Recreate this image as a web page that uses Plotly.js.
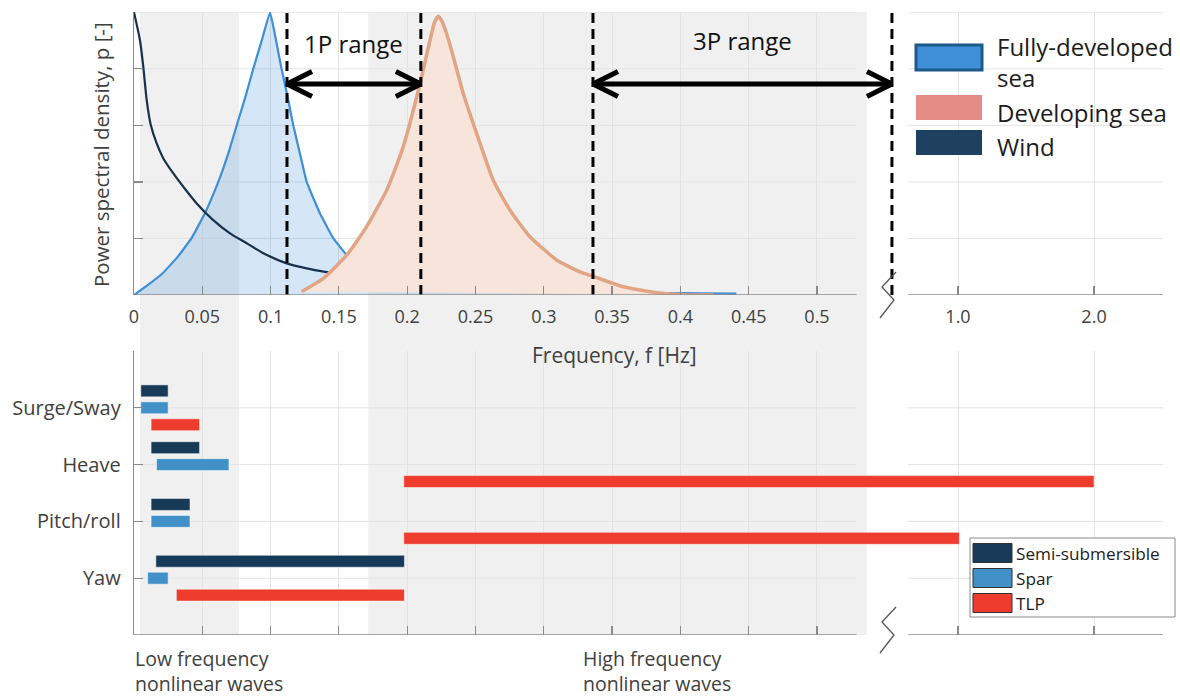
<!DOCTYPE html>
<html><head><meta charset="utf-8">
<script src="https://cdn.plot.ly/plotly-3.0.1.min.js"></script>
<style>html,body{margin:0;padding:0;background:#fff;}#chart{width:1180px;height:698px;}</style>
</head><body><div id="chart"></div>
<script>
// ---------------- DATA ----------------
const windF = [0, 0.0044, 0.0068, 0.0093, 0.0122, 0.0166, 0.0215, 0.0288, 0.0361, 0.0459, 0.058, 0.0703, 0.0825, 0.0947, 0.1118, 0.1264, 0.1398, 0.15];
const windP = [1.0, 0.90, 0.807, 0.689, 0.603, 0.536, 0.483, 0.430, 0.383, 0.324, 0.265, 0.218, 0.183, 0.148, 0.112, 0.094, 0.082, 0.075];

const fullyF = [0, 0.01, 0.021, 0.032, 0.042, 0.052, 0.0617, 0.069, 0.0752, 0.0815, 0.0873, 0.0935, 0.0996, 0.104, 0.108, 0.1125, 0.1166, 0.1215, 0.1264, 0.136, 0.146, 0.156, 0.167, 0.18, 0.2, 0.23, 0.26, 0.3, 0.35, 0.39, 0.415, 0.441];
const fullyP = [0, 0.035, 0.077, 0.135, 0.2, 0.29, 0.4, 0.5, 0.6, 0.7, 0.8, 0.9, 1.0, 0.9, 0.8, 0.7, 0.6, 0.5, 0.4, 0.29, 0.2, 0.14, 0.1, 0.075, 0.05, 0.03, 0.02, 0.013, 0.009, 0.007, 0.006, 0.005];

const devF = [0.1227, 0.1386, 0.1557, 0.1703, 0.185, 0.197, 0.2094, 0.2167, 0.2200, 0.2228, 0.2255, 0.2289, 0.2338, 0.2411, 0.2509, 0.263, 0.2753, 0.2899, 0.3094, 0.3265, 0.3363, 0.3582, 0.3826, 0.4021, 0.4241];
const devP = [0.012, 0.059, 0.141, 0.242, 0.371, 0.523, 0.748, 0.901, 0.965, 0.986, 0.968, 0.924, 0.842, 0.712, 0.571, 0.406, 0.300, 0.206, 0.124, 0.082, 0.066, 0.029, 0.008, 0.001, 0.0];

const onePRange = [0.112, 0.21];
const threePRange = [0.336, 0.63];
const arrowLevel = 0.746;
const lowFreqBand = [0.0044, 0.077];
const highFreqBand = [0.1715, 0.558];

const dofLabels = ['Surge/Sway', 'Heave', 'Pitch/roll', 'Yaw'];
const semiStart = [0.005, 0.0125, 0.0125, 0.016];
const semiEnd   = [0.025, 0.048, 0.041, 0.198];
const sparStart = [0.005, 0.0165, 0.0125, 0.010];
const sparEnd   = [0.025, 0.0695, 0.041, 0.025];
const tlpStart  = [0.0125, 0.1975, 0.1975, 0.031];
const tlpEnd    = [0.048, 2.0, 1.01, 0.198];

const freqTicks = [0, 0.05, 0.1, 0.15, 0.2, 0.25, 0.3, 0.35, 0.4, 0.45, 0.5, 1, 2];
const freqTickText = ['0', '0.05', '0.1', '0.15', '0.2', '0.25', '0.3', '0.35', '0.4', '0.45', '0.5', '1.0', '2.0'];
const pTicks = [0, 0.2, 0.4, 0.6, 0.8, 1.0];

// ---------------- GEOMETRY (broken frequency axis) ----------------
const W = 1180, H = 698;
const LX0 = 134, LX1 = 856.6, RX0 = 914, RX1 = 1163;
const TY0 = 12, TY1 = 295, BY0 = 351, BY1 = 635;
const F_L_END = 0.529;              // end of the linear low-frequency segment
const F_GAP_END = 0.693;            // frequencies drawn inside the break
const F_R_START = 0.6765, F_R_END = 2.507;  // compressed high-frequency segment
const pxL = (LX1 - LX0) / F_L_END;
const pxR = (RX1 - RX0) / (F_R_END - F_R_START);
function fpx(f) {
  if (f <= F_L_END) return LX0 + f * pxL;
  if (f < F_GAP_END) return LX1 + (f - F_L_END) / (F_GAP_END - F_L_END) * (RX0 - LX1);
  return RX0 + (f - F_R_START) * pxR;
}
function brk(f) { return (fpx(f) - LX0) / pxL; }
const U_END = (RX1 - LX0) / pxL;
const PX = x => x / W, PY = y => 1 - y / H;
const pUnit = (TY1 - TY0);
const uPerPx = 1 / pxL;

const AX = '#8a8a8a', GRID = '#e3e3e3', TXT = '#404040', BAND = '#f0f0f0';
const FONT = 'Open Sans, Noto Sans, sans-serif';

// ---------------- TRACES ----------------
const traces = [];
traces.push({
  x: fullyF.map(brk), y: fullyP, xaxis: 'x', yaxis: 'y', mode: 'lines', fill: 'toself',
  fillcolor: 'rgba(66,146,214,0.22)', line: {color: '#3d8fd6', width: 2.2, shape: 'spline', smoothing: 0.3}, hoverinfo: 'skip'
});
traces.push({
  x: windF.map(brk), y: windP, xaxis: 'x', yaxis: 'y', mode: 'lines',
  line: {color: '#17314d', width: 2.2, shape: 'spline', smoothing: 0.6}, hoverinfo: 'skip'
});
traces.push({
  x: devF.map(brk), y: devP, xaxis: 'x', yaxis: 'y', mode: 'lines', fill: 'toself',
  fillcolor: '#f7e4db', line: {color: '#e1a485', width: 3.5, shape: 'spline', smoothing: 0.5}, hoverinfo: 'skip'
});
const dX = [], dY = [];
onePRange.concat(threePRange).forEach(f => { dX.push(brk(f), brk(f), null); dY.push(0, 1, null); });
traces.push({x: dX, y: dY, xaxis: 'x', yaxis: 'y', mode: 'lines',
  line: {color: '#000', width: 3, dash: '10px,6px'}, hoverinfo: 'skip'});
function arrowXY(r) {
  const a = brk(r[0]), b = brk(r[1]);
  const hx = 25 * uPerPx, hy = 12.5 / pUnit, y = arrowLevel;
  return {
    x: [a + hx, a, a + hx, null, a, b, null, b - hx, b, b - hx],
    y: [y + hy, y, y - hy, null, y, y, null, y + hy, y, y - hy]
  };
}
[onePRange, threePRange].forEach(r => {
  const p = arrowXY(r);
  traces.push({x: p.x, y: p.y, xaxis: 'x', yaxis: 'y', mode: 'lines',
    line: {color: '#000', width: 5}, hoverinfo: 'skip'});
});
function barTrace(name, s, e, color) {
  return {type: 'bar', orientation: 'h', name: name,
    y: dofLabels.map((_, i) => i), base: s.map(brk), x: s.map((v, i) => brk(e[i]) - brk(v)),
    xaxis: 'x2', yaxis: 'y2', marker: {color: color, line: {color: 'rgba(255,255,255,0.5)', width: 1}},
    hoverinfo: 'skip'};
}
traces.push(barTrace('Semi-submersible', semiStart, semiEnd, '#163a57'));
traces.push(barTrace('Spar', sparStart, sparEnd, '#4190c8'));
traces.push(barTrace('TLP', tlpStart, tlpEnd, '#ee3d2f'));

// ---------------- LAYOUT ----------------
const common = {zeroline: false, gridcolor: GRID, gridwidth: 1, linecolor: AX, linewidth: 1.3,
  tickcolor: AX, tickwidth: 1.2, ticklen: 9, tickfont: {family: FONT, size: 18, color: TXT}};
const fTickVals = freqTicks.map(brk);
const layout = {
  width: W, height: H, margin: {l: 0, r: 0, t: 0, b: 0}, autosize: false,
  paper_bgcolor: '#fff', plot_bgcolor: 'rgba(0,0,0,0)', showlegend: false,
  font: {family: FONT, color: TXT},
  barmode: 'group', bargap: 0.105, bargroupgap: 0.295,
  xaxis: Object.assign({}, common, {domain: [PX(LX0), PX(RX1)], range: [0, U_END], anchor: 'y',
    tickmode: 'array', tickvals: fTickVals, ticktext: freqTickText, ticks: 'inside', showline: false,
    showgrid: true, ticklabelstandoff: 9}),
  yaxis: Object.assign({}, common, {domain: [PY(TY1), PY(TY0)], range: [0, 1.001], anchor: 'x',
    tickmode: 'array', tickvals: pTicks, ticks: 'inside', showticklabels: false, showline: true, showgrid: false}),
  xaxis2: Object.assign({}, common, {domain: [PX(LX0), PX(RX1)], range: [0, U_END], anchor: 'y2',
    tickmode: 'array', tickvals: fTickVals, ticks: 'inside', showticklabels: false, showline: false, showgrid: true}),
  yaxis2: Object.assign({}, common, {domain: [PY(BY1), PY(BY0)], range: [4, -1], anchor: 'x2',
    tickmode: 'array', tickvals: dofLabels.map((_, i) => i), ticktext: dofLabels, ticks: 'inside',
    showline: true, showgrid: false, ticklabelstandoff: 8, tickfont: {family: FONT, size: 20, color: TXT}}),
  shapes: [], annotations: []
};

// background frequency bands (span both panels)
[lowFreqBand, highFreqBand].forEach(b => layout.shapes.push({type: 'rect', xref: 'x', yref: 'paper',
  x0: brk(b[0]), x1: brk(b[1]), y0: PY(BY1), y1: PY(TY0), fillcolor: BAND, line: {width: 0}, layer: 'below'}));

// horizontal gridlines and axis lines, interrupted at the axis break
const segs = [[0, F_L_END], [F_R_START, F_R_END]];
function hline(yref, y, color, layer, w) {
  segs.forEach(s => layout.shapes.push({type: 'line', xref: 'x', yref: yref, x0: brk(s[0]), x1: brk(s[1]),
    y0: y, y1: y, line: {color: color, width: w}, layer: layer}));
}
pTicks.filter(v => v > 0).forEach(v => hline('y', v, GRID, 'below', 1));
dofLabels.forEach((_, i) => hline('y2', i, GRID, 'below', 1));
hline('y', 0, AX, 'above', 1.3);
hline('y2', 4, AX, 'above', 1.3);

// axis break marks
function zig(x, y) {
  return {type: 'path', xref: 'paper', yref: 'paper', line: {color: '#555', width: 1.3},
    path: `M${PX(x - 14)},${PY(y + 23)} L${PX(x)},${PY(y + 5)} L${PX(x - 12)},${PY(y - 8)} L${PX(x + 2)},${PY(y - 23)}`};
}
layout.shapes.push(zig(894, 295));
layout.shapes.push(zig(894, 630));

// top legend
const topLeg = [
  {label: 'Fully-developed<br>sea', fill: '#3f90d8', line: '#1c5a87', lw: 3, y0: 45, y1: 70, ty: 62},
  {label: 'Developing sea', fill: '#e38b84', line: '#e38b84', lw: 0, y0: 95, y1: 120, ty: 112},
  {label: 'Wind', fill: '#1e415f', line: '#1e415f', lw: 0, y0: 130, y1: 155, ty: 146}
];
topLeg.forEach(e => {
  layout.shapes.push({type: 'rect', xref: 'paper', yref: 'paper', x0: PX(916), x1: PX(982),
    y0: PY(e.y1), y1: PY(e.y0), fillcolor: e.fill, line: {color: e.line, width: e.lw}});
  layout.annotations.push({xref: 'paper', yref: 'paper', x: PX(995), y: PY(e.ty), xanchor: 'left',
    yanchor: 'middle', align: 'left', showarrow: false, text: e.label,
    font: {family: FONT, size: 24, color: '#1c1c1c'}});
});

// bottom legend
layout.shapes.push({type: 'rect', xref: 'paper', yref: 'paper', x0: PX(970), x1: PX(1175),
  y0: PY(617), y1: PY(538), fillcolor: '#fff', line: {color: '#8a8a8a', width: 1}});
const botLeg = [
  {label: 'Semi-submersible', fill: '#163a57', y: 553},
  {label: 'Spar', fill: '#4190c8', y: 578},
  {label: 'TLP', fill: '#ee3d2f', y: 603}
];
botLeg.forEach(e => {
  layout.shapes.push({type: 'rect', xref: 'paper', yref: 'paper', x0: PX(973), x1: PX(1012),
    y0: PY(e.y + 9.5), y1: PY(e.y - 9.5), fillcolor: e.fill, line: {color: '#333', width: 1}});
  layout.annotations.push({xref: 'paper', yref: 'paper', x: PX(1014), y: PY(e.y), xanchor: 'left',
    yanchor: 'middle', showarrow: false, text: e.label, font: {family: FONT, size: 17.2, color: '#1c1c1c'}});
});

// texts
layout.annotations.push({xref: 'x', yref: 'y', x: brk((onePRange[0] + onePRange[1]) / 2), y: 0.89,
  xanchor: 'center', yanchor: 'middle', showarrow: false, text: '1P range', font: {family: FONT, size: 24, color: '#111'}});
layout.annotations.push({xref: 'x', yref: 'y', x: (brk(threePRange[0]) + brk(threePRange[1])) / 2, y: 0.90,
  xanchor: 'center', yanchor: 'middle', showarrow: false, text: '3P range', font: {family: FONT, size: 24, color: '#111'}});
layout.annotations.push({xref: 'paper', yref: 'paper', x: PX(614), y: PY(355), xanchor: 'center', yanchor: 'middle',
  showarrow: false, text: 'Frequency, f [Hz]', font: {family: FONT, size: 21, color: TXT}});
layout.annotations.push({xref: 'paper', yref: 'paper', x: PX(101), y: PY(155), xanchor: 'center', yanchor: 'middle',
  showarrow: false, textangle: -90, text: 'Power spectral density, p [-]', font: {family: FONT, size: 20.5, color: TXT}});
layout.annotations.push({xref: 'paper', yref: 'paper', x: PX(133), y: PY(671), xanchor: 'left', yanchor: 'middle',
  align: 'left', showarrow: false, text: 'Low frequency<br>nonlinear waves', font: {family: FONT, size: 19.5, color: TXT}});
layout.annotations.push({xref: 'paper', yref: 'paper', x: PX(581), y: PY(671), xanchor: 'left', yanchor: 'middle',
  align: 'left', showarrow: false, text: 'High frequency<br>nonlinear waves', font: {family: FONT, size: 19.5, color: TXT}});

Plotly.newPlot('chart', traces, layout, {staticPlot: true, displayModeBar: false});
</script></body></html>
